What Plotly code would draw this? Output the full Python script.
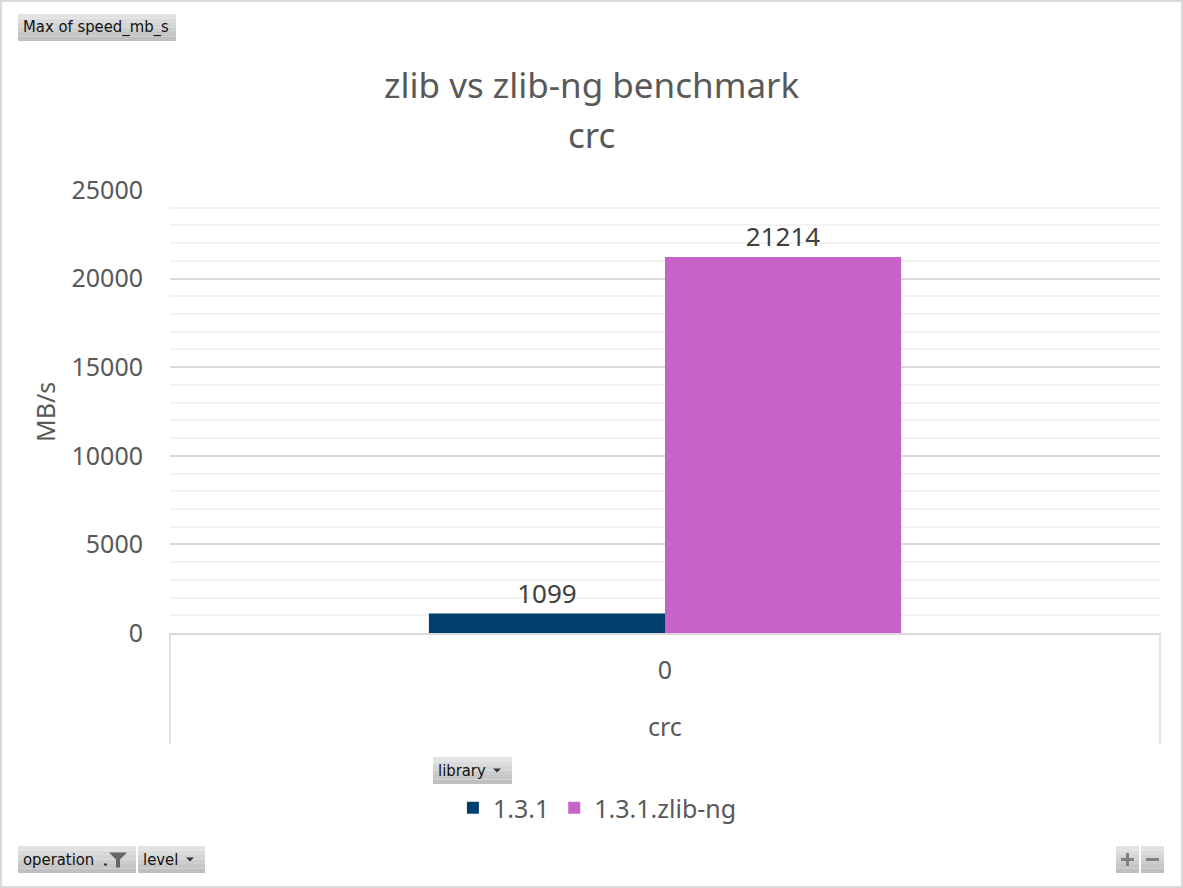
import plotly.graph_objects as go

# pivot chart data: max speed_mb_s for operation "crc"
operation = "crc"
levels = ["0"]
libraries = ["1.3.1", "1.3.1.zlib-ng"]
speed_zlib = [1099]
speed_zlib_ng = [21214]
colors = ["#003F6B", "#C762C9"]

W, H = 1183, 888
FONT = "Noto Sans"


def px(x):
    return x / W


def py(y):
    return 1 - y / H


fig = go.Figure()
for lib, vals, col in zip(libraries, [speed_zlib, speed_zlib_ng], colors):
    fig.add_trace(go.Bar(x=levels, y=vals, name=lib, marker_color=col,
                         text=vals, textposition="outside", cliponaxis=False,
                         textfont=dict(size=26, color="#404040", family=FONT)))

shapes = []
annots = []

# outer frame
shapes.append(dict(type="rect", xref="paper", yref="paper", x0=0, x1=1, y0=0, y1=1,
                   line=dict(color="#d9d9d9", width=4)))

# category axis separators
for xx in (170, 1160):
    shapes.append(dict(type="line", xref="paper", yref="paper", x0=px(xx), x1=px(xx),
                       y0=py(633), y1=py(744), line=dict(color="#d9d9d9", width=1.5)))


def button(x0, x1, y0, y1, label, arrow=None, funnel=False):
    # fake gradient with a few strips
    tones = ["#e2e2e2", "#dbdbdb", "#d4d4d4", "#cdcdcd", "#c6c6c6", "#bfbfbf"]
    h = (y1 - y0) / len(tones)
    for i, tone in enumerate(tones):
        shapes.append(dict(type="rect", xref="paper", yref="paper",
                           x0=px(x0), x1=px(x1), y0=py(y0 + (i + 1) * h), y1=py(y0 + i * h),
                           fillcolor=tone, line=dict(width=0), layer="above"))
    if label:
        annots.append(dict(x=px(x0 + 3), y=py((y0 + y1) / 2), xref="paper", yref="paper",
                           text=label, showarrow=False, xanchor="left", yanchor="middle",
                           font=dict(family="DejaVu Sans Condensed, Liberation Sans", size=16.5, color="#111111")))
    if arrow is not None:
        cx, cy = arrow, (y0 + y1) / 2
        shapes.append(dict(type="path", xref="paper", yref="paper", layer="above",
                           path=f"M {px(cx-4)},{py(cy-2)} L {px(cx+4)},{py(cy-2)} L {px(cx)},{py(cy+2)} Z",
                           fillcolor="#333333", line=dict(width=0)))
    if funnel:
        fx, cy = 118, (y0 + y1) / 2
        shapes.append(dict(type="path", xref="paper", yref="paper", layer="above",
                           path=(f"M {px(fx-9)},{py(cy-7)} L {px(fx+9)},{py(cy-7)} L {px(fx+2)},{py(cy)} "
                                 f"L {px(fx+2)},{py(cy+8)} L {px(fx-2)},{py(cy+8)} L {px(fx-2)},{py(cy)} Z"),
                           fillcolor="#666666", line=dict(width=0)))
        shapes.append(dict(type="line", xref="paper", yref="paper", layer="above",
                           x0=px(104), x1=px(107), y0=py(cy + 5), y1=py(cy + 5),
                           line=dict(color="#333333", width=2)))


button(18, 176, 14, 41, "Max of speed_mb_s")
button(433, 512, 757, 784, "library", arrow=497)
button(18, 136, 846, 873, "operation", funnel=True)
button(138, 205, 846, 873, "level", arrow=190)
button(1116, 1139, 846, 873, None)
button(1141, 1164, 846, 873, None)
# zoom +/- glyphs
for x0, x1, y0, y1 in [(1121, 1134, 859.5, 859.5), (1127.5, 1127.5, 853, 866), (1146, 1159, 859.5, 859.5)]:
    shapes.append(dict(type="line", xref="paper", yref="paper", layer="above",
                       x0=px(x0), x1=px(x1), y0=py(y0), y1=py(y1),
                       line=dict(color="#808080", width=3)))

# titles
annots.append(dict(x=0.5, y=py(85), xref="paper", yref="paper", text="zlib vs zlib-ng benchmark",
                   showarrow=False, yanchor="middle", font=dict(size=35, color="#595959", family=FONT)))
annots.append(dict(x=0.5, y=py(135), xref="paper", yref="paper", text=operation,
                   showarrow=False, yanchor="middle", font=dict(size=35, color="#595959", family=FONT)))
# axis titles
annots.append(dict(x=px(45), y=py(412), xref="paper", yref="paper", text="MB/s", textangle=-90,
                   xanchor="center", yanchor="middle",
                   showarrow=False, font=dict(size=25, color="#595959", family=FONT)))
annots.append(dict(x=px(665), y=py(726), xref="paper", yref="paper", text=operation,
                   showarrow=False, yanchor="middle", font=dict(size=25, color="#595959", family=FONT)))

fig.update_layout(
    template="none",
    width=W, height=H,
    margin=dict(l=0, r=0, t=0, b=0),
    paper_bgcolor="white", plot_bgcolor="white",
    barmode="group", bargap=0.523, bargroupgap=0,
    showlegend=True,
    legend=dict(orientation="h", x=0.505, xanchor="center", y=py(808), yanchor="middle",
                font=dict(size=25, color="#595959", family=FONT), itemclick=False),
    xaxis=dict(domain=[px(170), px(1160)], type="category", showgrid=False,
               showline=True, linecolor="#d9d9d9", linewidth=1.5, ticks="",
               tickfont=dict(size=25, color="#595959", family=FONT),
               ticklabelstandoff=14, automargin=False, fixedrange=True),
    yaxis=dict(domain=[py(633), py(190)], range=[0, 25000], dtick=5000, tickformat="d",
               gridcolor="#d9d9d9", gridwidth=1.5, zeroline=False, showline=False, ticks="",
               minor=dict(dtick=1000, showgrid=True, gridcolor="#f2f2f2", gridwidth=1.5),
               tickfont=dict(size=25, color="#595959", family=FONT),
               ticklabelstandoff=26, automargin=False, fixedrange=True),
    shapes=shapes,
    annotations=annots,
)

fig.write_html("out.html", config={"displayModeBar": False},
               post_script="document.body.style.margin='0';")
